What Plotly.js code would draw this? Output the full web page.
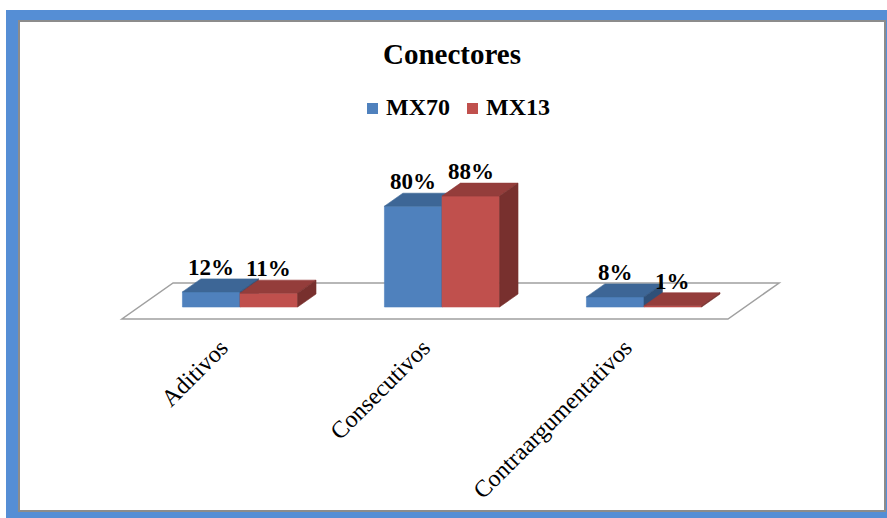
<!DOCTYPE html>
<html>
<head>
<meta charset="utf-8">
<script src="https://cdn.plot.ly/plotly-3.0.1.min.js"></script>
<style>
  html, body { margin: 0; padding: 0; background: #ffffff; width: 887px; height: 518px; overflow: hidden; }
  #band { position: absolute; left: 6px; top: 10px; width: 881px; height: 508px; background: #558ED5; }
  #card { position: absolute; left: 18px; top: 20px; width: 864px; height: 488px; background: #ffffff; border: 2px solid #8C8C8C; }
  #chart { position: absolute; left: 0; top: 0; width: 887px; height: 518px; }
</style>
</head>
<body>
<div id="band"></div>
<div id="card"></div>
<div id="chart"></div>
<script>
// Connector usage by type, two corpora
const categories = ['Aditivos', 'Consecutivos', 'Contraargumentativos'];
const seriesNames = ['MX70', 'MX13'];
const MX70 = [12, 80, 8];
const MX13 = [11, 88, 1];

const FONT = 'Times New Roman, Liberation Serif, serif';

// Colour sets per series: front, top and side faces of the 3-D columns
const faceColors = [
  { front: '#4F81BD', top: '#3D6696', side: '#2F5078' },
  { front: '#C0504D', top: '#943D3B', side: '#78302E' }
];
const seriesValues = [MX70, MX13];

// Pixel geometry of the oblique projection
const W = 887, H = 518;
const PLOT = { l: 20, r: 3, t: 130, b: 196 };
const ORIGIN = { x: 240, y: 307 };   // pixel of category 0 at value 0
const PX_PER_CAT = 202;               // horizontal pixels per category
const PX_PER_PCT = 1.26;              // vertical pixels per percent
const SLANT = 1.42;                   // horizontal px per vertical px of depth
const BAR_W = 0.285;                  // column width in category units
const BAR_DEPTH = 13;                 // column depth, px
const FLOOR_FRONT = -12, FLOOR_BACK = 24;

// Legend row placement (pixels)
const LEGEND = { x0: 367, step: 100, y: 108, box: 11, textGap: 6 };

function depth(t) {
  return { dx: t * SLANT / PX_PER_CAT, dy: t / PX_PER_PCT };
}
function paperX(px) { return (px - PLOT.l) / (W - PLOT.l - PLOT.r); }
function paperY(py) { return (H - PLOT.b - py) / (H - PLOT.t - PLOT.b); }

const xRange = [(PLOT.l - ORIGIN.x) / PX_PER_CAT, (W - PLOT.r - ORIGIN.x) / PX_PER_CAT];
const yRange = [(ORIGIN.y - (H - PLOT.b)) / PX_PER_PCT, (ORIGIN.y - PLOT.t) / PX_PER_PCT];

function face(xs, ys, color) {
  return {
    type: 'scatter', mode: 'lines', x: xs.concat([xs[0]]), y: ys.concat([ys[0]]),
    fill: 'toself', fillcolor: color,
    line: { color: color, width: 0.6 },
    hoverinfo: 'skip', showlegend: false
  };
}

const traces = [];
const annotations = [];
const shapes = [];
const d = depth(BAR_DEPTH);

// Floor of the 3-D plot area
const fF = depth(FLOOR_FRONT), fB = depth(FLOOR_BACK);
const fl = -0.5, fr = categories.length - 0.5;
shapes.push({
  type: 'path', xref: 'x', yref: 'y', layer: 'below',
  path: 'M' + (fl + fF.dx) + ',' + fF.dy +
    ' L' + (fr + fF.dx) + ',' + fF.dy +
    ' L' + (fr + fB.dx) + ',' + fB.dy +
    ' L' + (fl + fB.dx) + ',' + fB.dy + ' Z',
  fillcolor: '#FFFFFF', line: { color: '#A0A0A0', width: 1.5 }
});

// Columns drawn left to right so each one overlaps its left neighbour's hidden faces
categories.forEach(function (cat, i) {
  seriesValues.forEach(function (vals, s) {
    const v = vals[i];
    const x0 = i - BAR_W + s * BAR_W;
    const x1 = x0 + BAR_W;
    const c = faceColors[s];
    traces.push(face([x0, x1, x1, x0], [0, 0, v, v], c.front));
    traces.push(face([x0, x1, x1 + d.dx, x0 + d.dx], [v, v, v + d.dy, v + d.dy], c.top));
    traces.push(face([x1, x1 + d.dx, x1 + d.dx, x1], [0, d.dy, v + d.dy, v], c.side));
    annotations.push({
      x: (x0 + x1) / 2, y: v + d.dy, xref: 'x', yref: 'y', yshift: -3,
      text: v + '%', showarrow: false, xanchor: 'center', yanchor: 'bottom',
      font: { family: FONT, size: 23, color: '#000000', weight: 'bold' }
    });
  });
});

// Legend row: colour key squares with series names
seriesNames.forEach(function (name, s) {
  const left = LEGEND.x0 + s * LEGEND.step;
  shapes.push({
    type: 'rect', xref: 'paper', yref: 'paper', layer: 'above',
    x0: paperX(left), x1: paperX(left + LEGEND.box),
    y0: paperY(LEGEND.y - LEGEND.box / 2 + 0.5), y1: paperY(LEGEND.y + LEGEND.box / 2 + 0.5),
    fillcolor: faceColors[s].front, line: { width: 0 }
  });
  annotations.push({
    x: paperX(left + LEGEND.box + LEGEND.textGap), y: paperY(LEGEND.y - 1.5),
    xref: 'paper', yref: 'paper', xanchor: 'left', yanchor: 'middle',
    text: name, showarrow: false,
    font: { family: FONT, size: 24, color: '#000000', weight: 'bold' }
  });
});

const layout = {
  width: W, height: H,
  margin: PLOT,
  paper_bgcolor: 'rgba(0,0,0,0)',
  plot_bgcolor: 'rgba(0,0,0,0)',
  title: {
    text: 'Conectores', xref: 'container', yref: 'container',
    x: 452 / W, xanchor: 'center', y: 1 - 54 / H, yanchor: 'middle',
    font: { family: FONT, size: 29, color: '#000000', weight: 'bold' }
  },
  showlegend: false,
  xaxis: {
    range: xRange, tickvals: categories.map(function (c, i) { return i; }), ticktext: categories,
    tickangle: -45, tickfont: { family: FONT, size: 24, color: '#000000' },
    ticklabelshift: -19, ticklabelstandoff: 6,
    showgrid: false, zeroline: false, showline: false, ticks: '', fixedrange: true
  },
  yaxis: {
    range: yRange, showticklabels: false, showgrid: false, zeroline: false,
    showline: false, ticks: '', fixedrange: true
  },
  shapes: shapes,
  annotations: annotations
};

Plotly.newPlot('chart', traces, layout, { displayModeBar: false, staticPlot: true });
</script>
</body>
</html>
